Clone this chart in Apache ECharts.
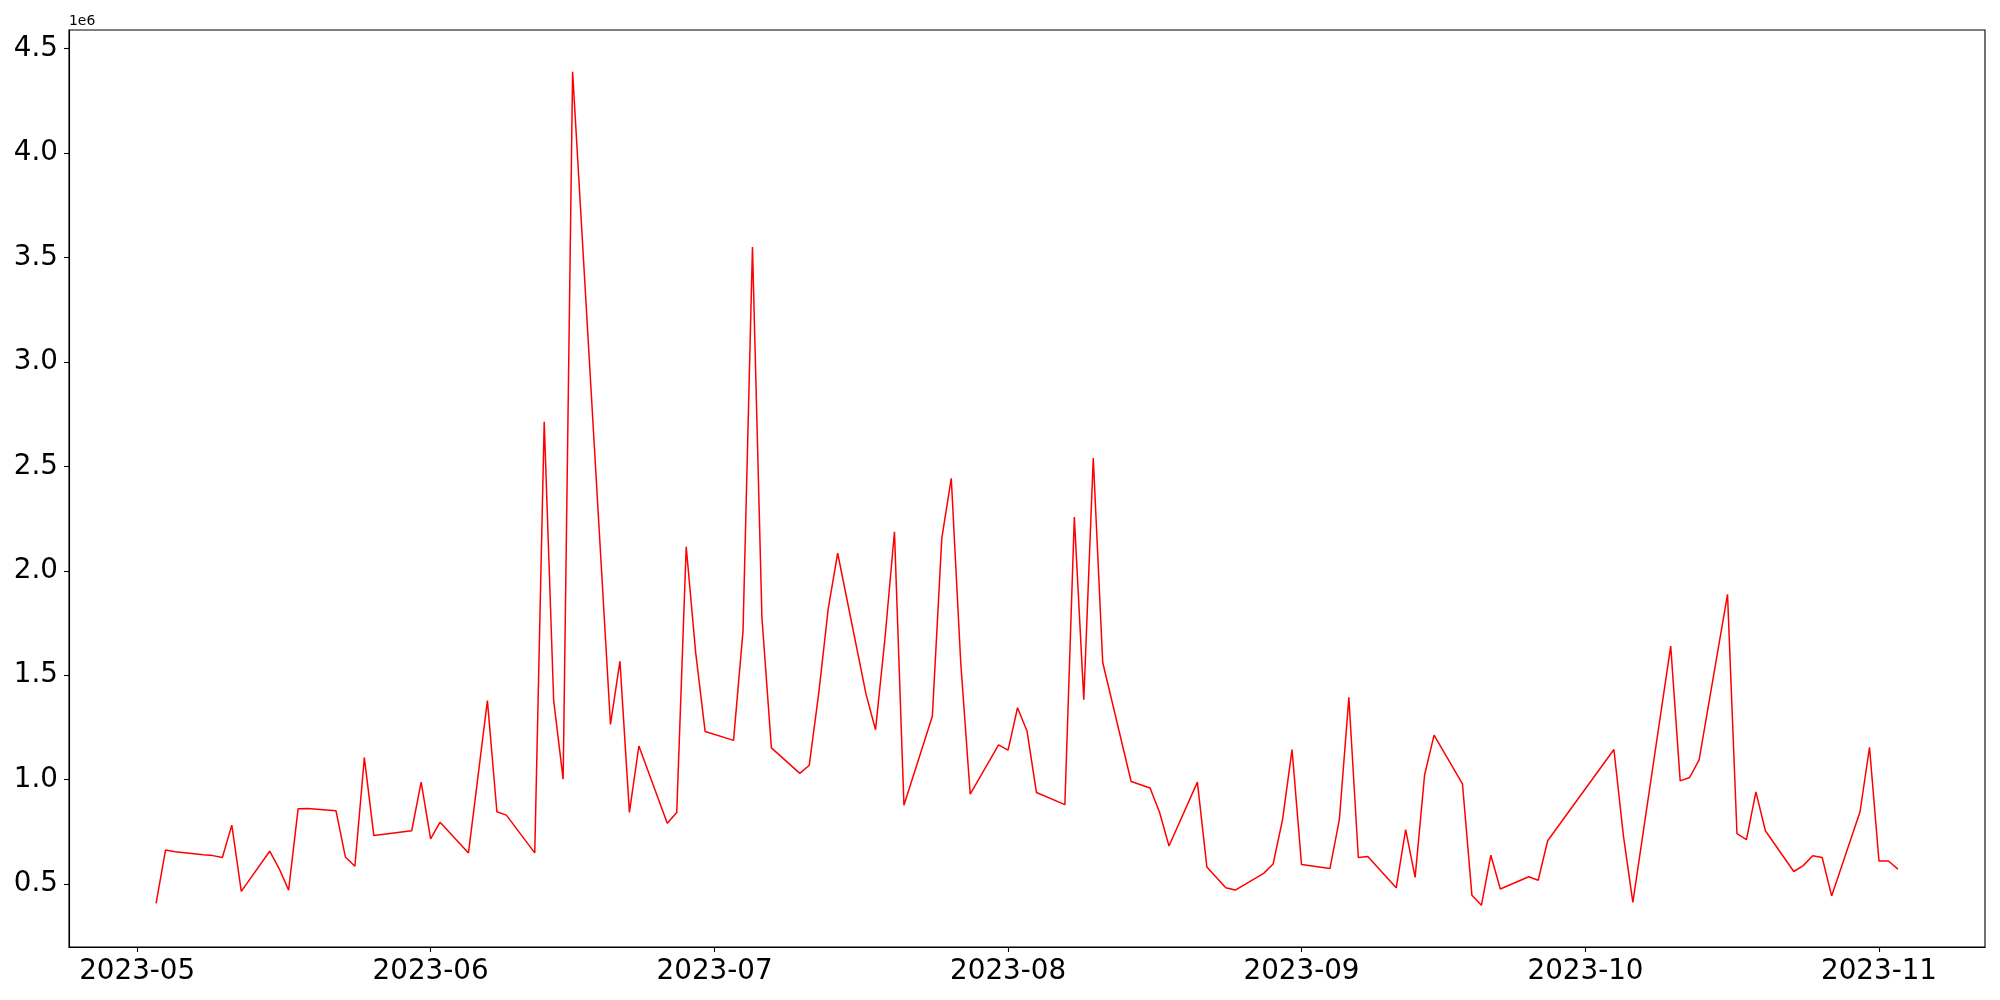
<!DOCTYPE html>
<html>
<head>
<meta charset="utf-8">
<script src="https://cdn.jsdelivr.net/npm/echarts@6/dist/echarts.min.js"></script>
<style>
html,body{margin:0;padding:0;background:#fff;}
#chart{width:2000px;height:1000px;}
</style>
</head>
<body>
<div id="chart"></div>
<script>
const dates = [
'2023-05-03','2023-05-04','2023-05-05','2023-05-08','2023-05-09','2023-05-10','2023-05-11','2023-05-12',
'2023-05-15','2023-05-16','2023-05-17','2023-05-18','2023-05-19','2023-05-22','2023-05-23','2023-05-24',
'2023-05-25','2023-05-26','2023-05-30','2023-05-31','2023-06-01','2023-06-02','2023-06-05','2023-06-07',
'2023-06-08','2023-06-09','2023-06-12','2023-06-13','2023-06-14','2023-06-15','2023-06-16','2023-06-20',
'2023-06-21','2023-06-22','2023-06-23','2023-06-26','2023-06-27','2023-06-28','2023-06-29','2023-06-30',
'2023-07-03','2023-07-04','2023-07-05','2023-07-06','2023-07-07','2023-07-10','2023-07-11','2023-07-12',
'2023-07-13','2023-07-14','2023-07-17','2023-07-18','2023-07-19','2023-07-20','2023-07-21','2023-07-24',
'2023-07-25','2023-07-26','2023-07-27','2023-07-28','2023-07-31','2023-08-01','2023-08-02','2023-08-03',
'2023-08-04','2023-08-07','2023-08-08','2023-08-09','2023-08-10','2023-08-11','2023-08-14','2023-08-16',
'2023-08-17','2023-08-18','2023-08-21','2023-08-22','2023-08-24','2023-08-25','2023-08-28','2023-08-29',
'2023-08-30','2023-08-31','2023-09-01','2023-09-04','2023-09-05','2023-09-06','2023-09-07','2023-09-08',
'2023-09-11','2023-09-12','2023-09-13','2023-09-14','2023-09-15','2023-09-18','2023-09-19','2023-09-20',
'2023-09-21','2023-09-22','2023-09-25','2023-09-26','2023-09-27','2023-10-04','2023-10-05','2023-10-06',
'2023-10-10','2023-10-11','2023-10-12','2023-10-13','2023-10-16','2023-10-17','2023-10-18','2023-10-19',
'2023-10-20','2023-10-23','2023-10-24','2023-10-25','2023-10-26','2023-10-27','2023-10-30','2023-10-31',
'2023-11-01','2023-11-02','2023-11-03'
];
const values = [
407000,663000,655000,640000,636000,627000,782000,465000,
657000,574000,471000,860000,862000,851000,629000,585000,
1105000,732000,755000,988000,716000,796000,649000,1378000,
846000,830000,649000,2713000,1378000,1002000,4390000,1264000,
1567000,843000,1161000,791000,843000,2115000,1608000,1230000,
1188000,1711000,3550000,1775000,1152000,1030000,1069000,1414000,
1817000,2084000,1408000,1239000,1678000,2187000,877000,1303000,
2156000,2443000,1561000,930000,1166000,1141000,1344000,1233000,
938000,880000,2257000,1383000,2540000,1561000,991000,960000,
844000,682000,988000,582000,482000,471000,551000,596000,
810000,1144000,593000,574000,810000,1394000,627000,632000,
482000,760000,532000,1022000,1213000,980000,446000,398000,
638000,476000,535000,518000,707000,1144000,732000,412000,
1639000,994000,1010000,1094000,1887000,741000,713000,941000,
755000,560000,588000,635000,627000,443000,846000,1155000,
610000,610000,571000
];
const xTickLabels = ['2023-05','2023-06','2023-07','2023-08','2023-09','2023-10','2023-11'];
const yTickValues = [500000,1000000,1500000,2000000,2500000,3000000,3500000,4000000,4500000];
const yOffsetText = '1e6';

function parseDay(s){ const p=s.split('-').map(Number); return Date.UTC(p[0],p[1]-1,p[2]||1); }
const xs = dates.map(parseDay);
const xMinD = Math.min(...xs), xMaxD = Math.max(...xs);
const xPad = (xMaxD - xMinD) * 0.05;
const yMinD = Math.min(...values), yMaxD = Math.max(...values);
const yPad = (yMaxD - yMinD) * 0.05;
const xTickValues = xTickLabels.map(parseDay);

const font = 'DejaVu Sans';
const chart = echarts.init(document.getElementById('chart'), null, {renderer:'canvas'});
chart.setOption({
  animation:false,
  backgroundColor:'#fff',
  grid:{left:69, right:15, top:30, bottom:53, show:true, borderColor:'#000', borderWidth:1.1, containLabel:false},
  xAxis:{
    type:'value',
    min:xMinD - xPad, max:xMaxD + xPad,
    axisLine:{show:true, lineStyle:{color:'#000', width:1.1}},
    axisTick:{show:true, length:5, inside:false, lineStyle:{color:'#000', width:1.1}, customValues:xTickValues},
    axisLabel:{show:true, margin:11, color:'#000', fontFamily:font, fontSize:27.78,
      customValues:xTickValues,
      formatter:function(v){ const d=new Date(v); return d.getUTCFullYear()+'-'+String(d.getUTCMonth()+1).padStart(2,'0'); }},
    splitLine:{show:false}, minorTick:{show:false}
  },
  yAxis:{
    type:'value',
    min:yMinD - yPad, max:yMaxD + yPad,
    name:yOffsetText, nameLocation:'end', nameGap:1.5,
    nameTextStyle:{align:'left', verticalAlign:'bottom', fontFamily:font, fontSize:13.9, color:'#000'},
    axisLine:{show:true, lineStyle:{color:'#000', width:1.1}},
    axisTick:{show:true, length:5, inside:false, lineStyle:{color:'#000', width:1.1}, customValues:yTickValues},
    axisLabel:{show:true, margin:11, color:'#000', fontFamily:font, fontSize:27.78, padding:[5,0,0,0],
      customValues:yTickValues, formatter:function(v){ return (v/1e6).toFixed(1); }},
    splitLine:{show:false}
  },
  series:[{
    type:'line',
    data:dates.map((d,i)=>[xs[i], values[i]]),
    showSymbol:false, symbol:'none',
    lineStyle:{color:'#ff0000', width:1.5},
    itemStyle:{color:'#ff0000'}
  }]
});
</script>
</body>
</html>
